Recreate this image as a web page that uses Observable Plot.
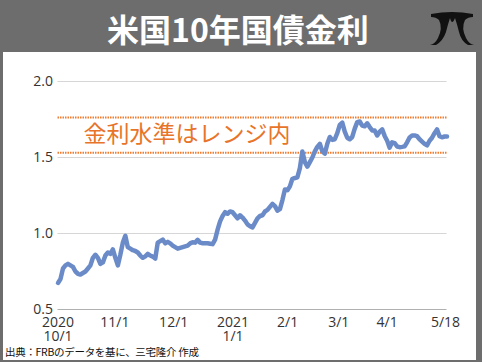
<!DOCTYPE html>
<html><head><meta charset="utf-8">
<script src="https://cdn.jsdelivr.net/npm/d3@7"></script>
<script src="https://cdn.jsdelivr.net/npm/@observablehq/plot@0.6"></script>
<style>
html,body{margin:0;padding:0;background:#fff;}
#card{position:relative;width:482px;height:362px;background:#6d6d6d;overflow:hidden;font-family:"Noto Sans CJK JP",sans-serif;}
#inner{position:absolute;left:3px;top:52px;width:473px;height:308px;background:#fff;}
#title{position:absolute;left:0;top:0;width:476px;height:52px;line-height:56px;text-align:center;color:#fff;font-size:32px;font-weight:700;}
#chart{position:absolute;left:0;top:52px;}
#caption{position:absolute;left:5px;top:344px;font-size:10.5px;letter-spacing:-0.3px;color:#111;white-space:nowrap;}
#logo{position:absolute;left:428px;top:8px;}
</style></head><body>
<div id="card">
  <div id="inner"></div>
  <div id="title">米国10年国債金利</div>
  <svg id="logo" width="48" height="40" viewBox="0 0 48 40">
    <path d="M3 6 Q24 2 45 6 L45 9 Q40 9 37 12 Q33 20 38 30 Q41 36 46 37 L40 37 Q33 33 31 24 Q29 16 27 10 Q24 18 22 10 Q20 16 18 24 Q15 33 8 37 L2 37 Q7 36 10 30 Q15 20 11 12 Q8 9 3 9 Z" fill="#111"/>
  </svg>
  <div id="chart"></div>
  <div id="caption">出典：FRBのデータを基に、三宅隆介 作成</div>
</div>
<script>
const values = [
0.675,0.70,0.77,0.79,0.80,0.79,0.78,0.75,0.735,0.73,
0.74,0.75,0.77,0.79,0.84,0.86,0.84,0.80,0.81,0.855,
0.875,0.866,0.895,0.84,0.79,0.86,0.94,0.985,0.91,0.90,
0.89,0.885,0.875,0.855,0.84,0.85,0.866,0.855,0.848,0.835,
0.94,0.95,0.96,0.935,0.945,0.935,0.92,0.91,0.90,0.905,
0.91,0.915,0.92,0.935,0.943,0.94,0.958,0.94,0.936,0.936,
0.936,0.933,0.93,0.96,1.025,1.08,1.115,1.14,1.13,1.145,
1.14,1.12,1.10,1.12,1.105,1.085,1.06,1.048,1.04,1.07,
1.10,1.115,1.12,1.145,1.155,1.175,1.195,1.18,1.15,1.16,
1.22,1.29,1.285,1.31,1.36,1.365,1.37,1.43,1.54,1.47,
1.44,1.47,1.50,1.54,1.57,1.59,1.54,1.525,1.59,1.635,
1.616,1.62,1.66,1.715,1.73,1.67,1.63,1.62,1.635,1.69,
1.733,1.737,1.71,1.705,1.725,1.70,1.678,1.678,1.645,1.67,
1.685,1.642,1.61,1.565,1.60,1.595,1.572,1.568,1.57,1.573,
1.60,1.632,1.645,1.645,1.64,1.62,1.605,1.59,1.58,1.61,
1.63,1.66,1.685,1.64,1.633,1.638,1.638
];
const xTickIdx = [0, 22.8, 46.4, 70.2, 92.1, 112.6, 132, 155.4];
const xTickLabels = ["2020\n10/1", "11/1", "12/1", "2021\n1/1", "2/1", "3/1", "4/1", "5/18"];
const yTicks = [0.5, 1.0, 1.5, 2.0];
const rangeLines = [1.763, 1.531];
const note = ["金利水準はレンジ内"];
const noteX = [10.2];
const noteY = [1.651];

const chart = Plot.plot({
  width: 482,
  height: 300,
  marginLeft: 57.5,
  marginRight: 35.5,
  marginTop: 29,
  marginBottom: 43,
  style: {background: "transparent", color: "#333", fontSize: "14px", fontFamily: "'Open Sans', sans-serif"},
  x: {type: "linear", domain: [0, values.length - 1], axis: null},
  y: {domain: [0.5, 2.0], axis: null},
  marks: [
    Plot.ruleY(yTicks.slice(1), {stroke: "#d6d6d6", strokeWidth: 1}),
    Plot.ruleY(yTicks.slice(0, 1), {stroke: "#b0b0b0", strokeWidth: 1}),
    Plot.axisY(yTicks, {tickSize: 0, tickPadding: 5, tickFormat: d3.format(".1f"), fontSize: 14, fill: "#333"}),
    Plot.axisX(xTickIdx, {tickSize: 0, tickPadding: 8, tickFormat: (d, i) => xTickLabels[i], fontSize: 14, fill: "#333", lineHeight: 1}),
    Plot.ruleY(rangeLines, {stroke: "#ee7d31", strokeWidth: 2, strokeDasharray: "1.5,1"}),
    Plot.line(values, {x: (d, i) => i, y: d => d, stroke: "#6a8bc8", strokeWidth: 4.5, strokeLinejoin: "round", strokeLinecap: "round"}),
    Plot.text(note, {x: (d, i) => noteX[i], y: (d, i) => noteY[i], text: d => d, textAnchor: "start", lineAnchor: "middle", fill: "#e8742a", fontSize: 23, fontFamily: "'Noto Sans CJK JP', sans-serif"})
  ]
});
document.getElementById("chart").appendChild(chart);
</script>
</body></html>
